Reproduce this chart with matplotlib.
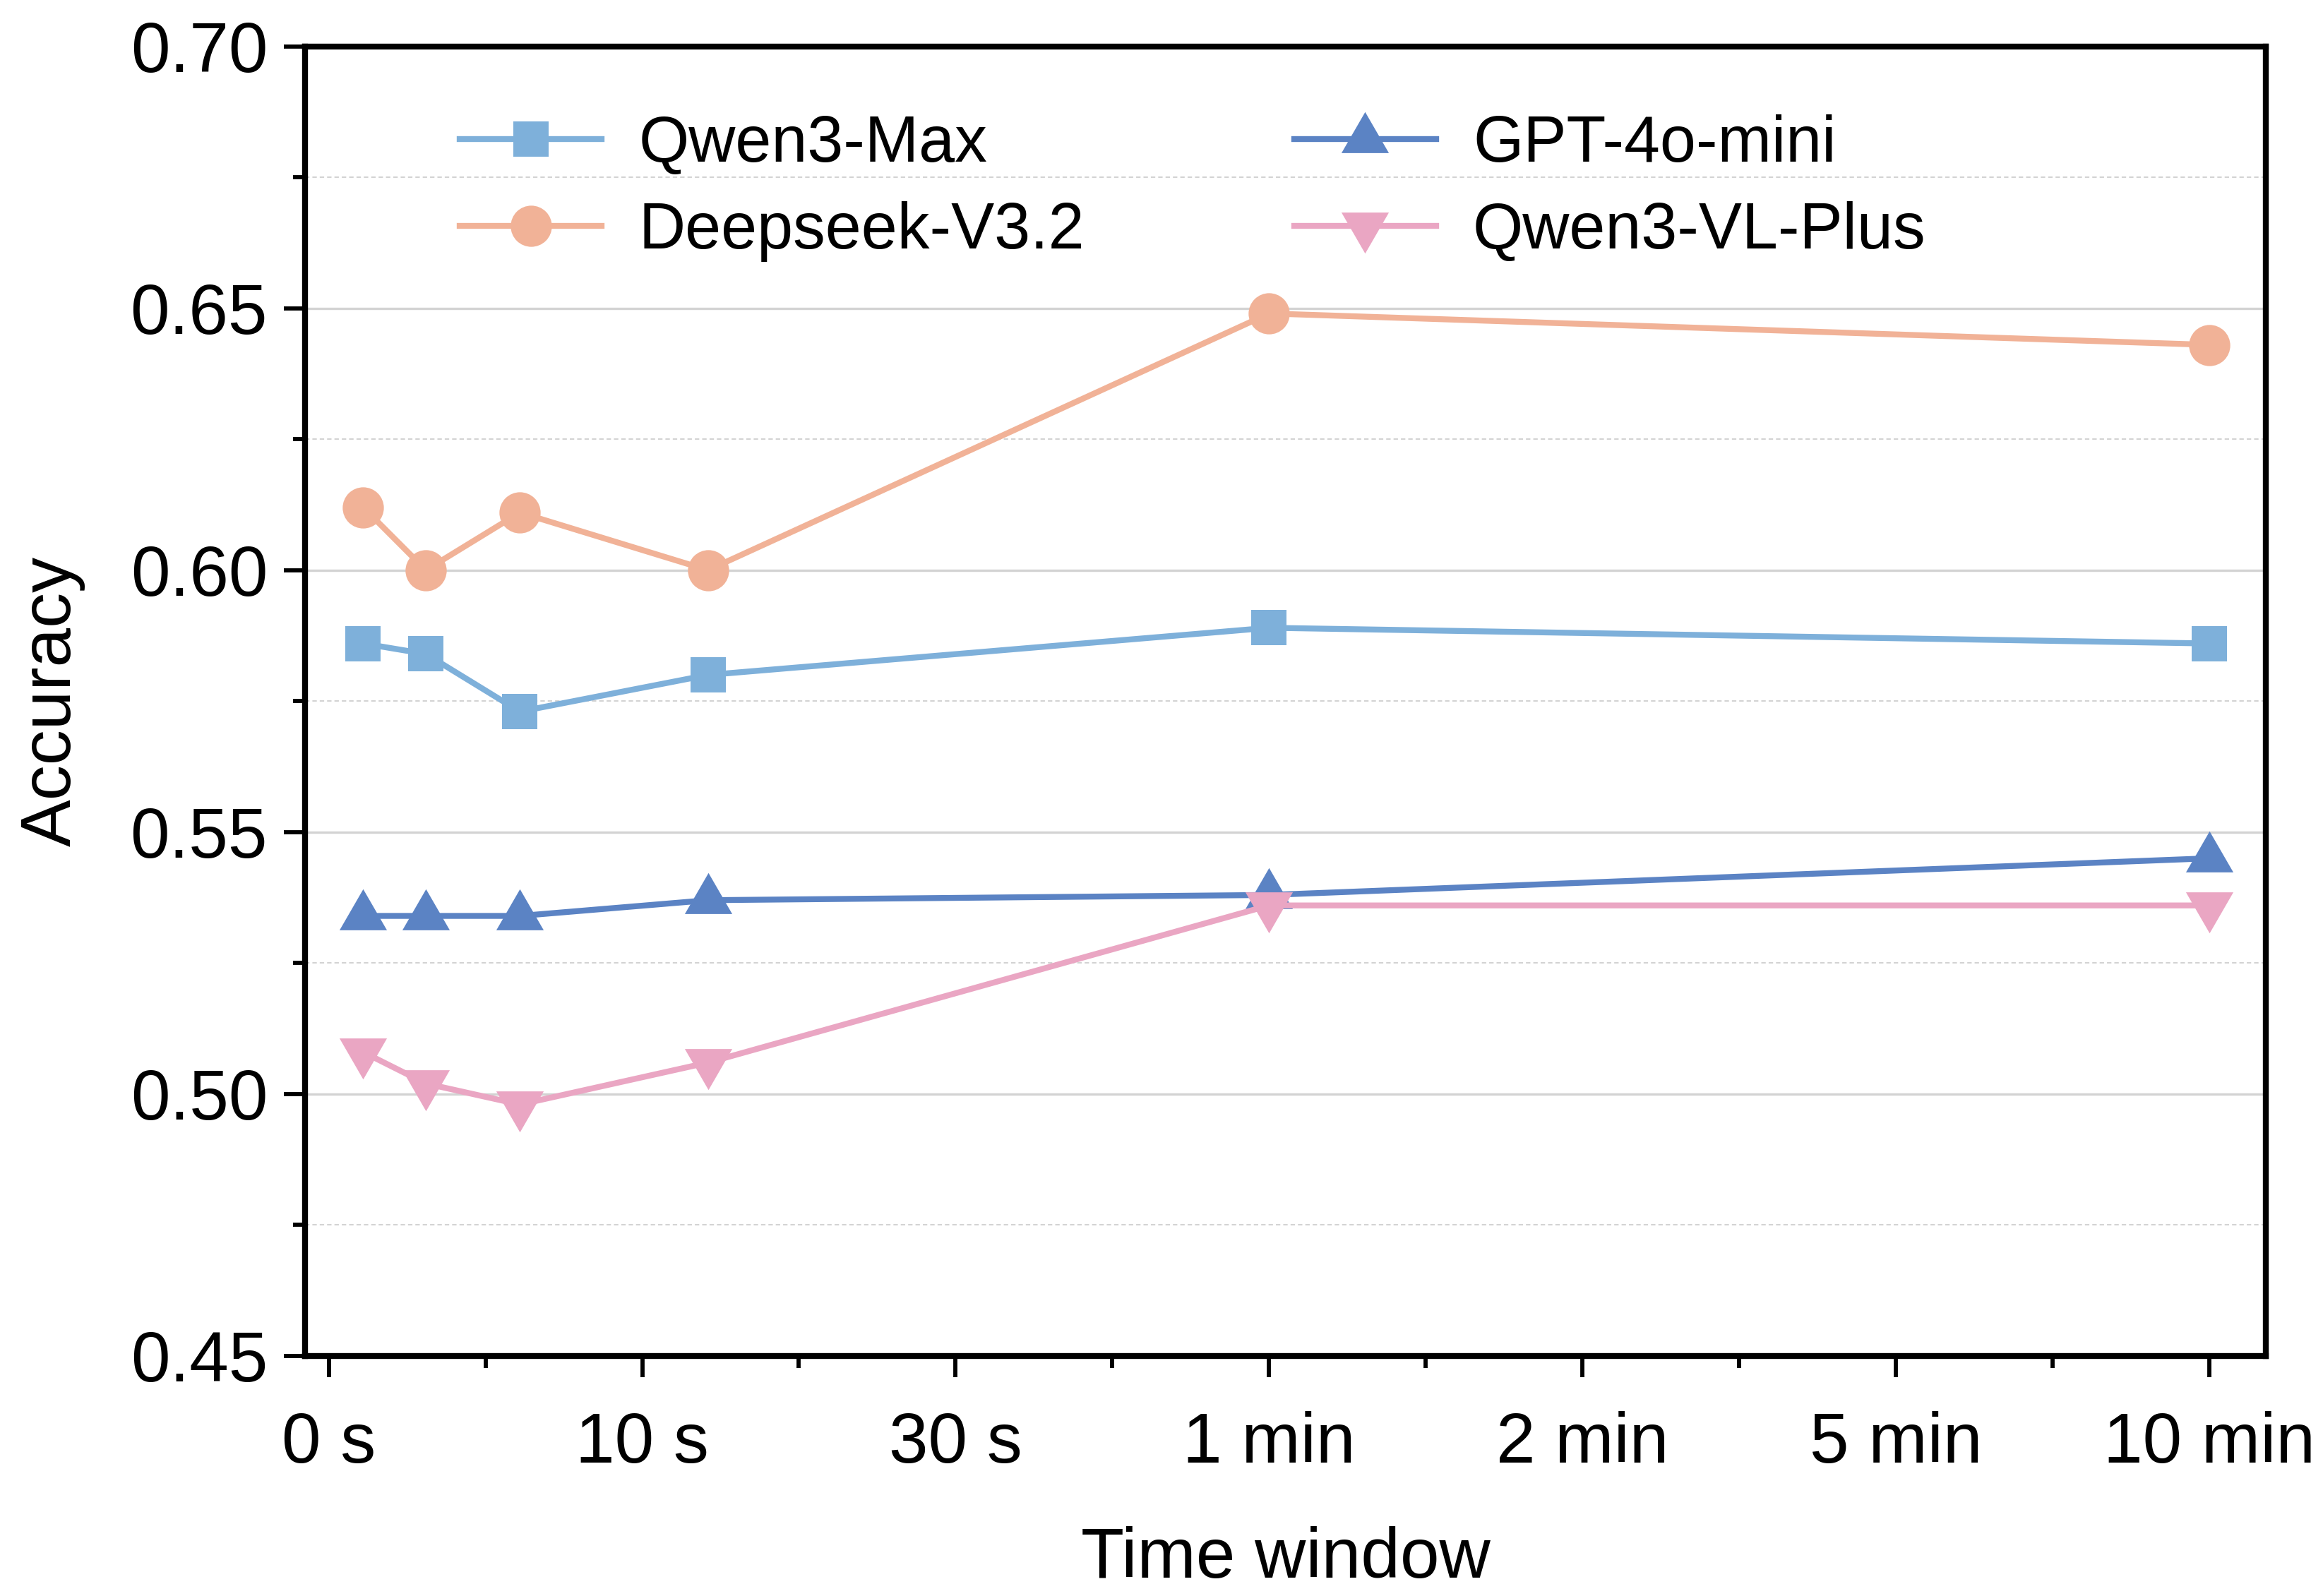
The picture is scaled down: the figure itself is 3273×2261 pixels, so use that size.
import matplotlib.pyplot as plt
from matplotlib.ticker import FixedLocator, MultipleLocator, FormatStrFormatter

plt.rcParams['font.family'] = ['Liberation Sans', 'DejaVu Sans']

# ---------- data ----------
tick_pos    = [0, 1, 2, 3, 4, 5, 6]
tick_labels = ["0 s", "10 s", "30 s", "1 min", "2 min", "5 min", "10 min"]
minor_pos   = [0.5, 1.5, 2.5, 3.5, 4.5, 5.5]

# where the measured windows sit on the time axis
x_pos = [0.11, 0.31, 0.61, 1.21, 3.0, 6.0]

qwen3_max     = [0.586, 0.584, 0.573, 0.580, 0.589, 0.586]
deepseek_v32  = [0.612, 0.600, 0.611, 0.600, 0.649, 0.643]
gpt_4o_mini   = [0.534, 0.534, 0.534, 0.537, 0.538, 0.545]
qwen3_vl_plus = [0.508, 0.502, 0.498, 0.506, 0.536, 0.536]

# equilateral triangles centred on their centroid (Origin style)
tri_up   = [(0, 2/3), (-0.5774, -1/3), (0.5774, -1/3), (0, 2/3)]
tri_down = [(0, -2/3), (-0.5774, 1/3), (0.5774, 1/3), (0, -2/3)]

series = [
    ("Qwen3-Max",     qwen3_max,     "#7EB0DA", "s",      12),
    ("Deepseek-V3.2", deepseek_v32,  "#F1B297", "o",      14),
    ("GPT-4o-mini",   gpt_4o_mini,   "#5B83C4", tri_up,   18.6),
    ("Qwen3-VL-Plus", qwen3_vl_plus, "#EAA6C3", tri_down, 18.6),
]

# ---------- figure ----------
fig = plt.figure(figsize=(3273 / 300, 2261 / 300), dpi=300)
ax = fig.add_axes([0.132, 0.1504, 0.8485, 0.8206])

for name, vals, color, marker, ms in series:
    ax.plot(x_pos, vals, color=color, lw=2.0, marker=marker, ms=ms,
            mec=color, mfc=color, mew=0, label=name, zorder=3)

ax.set_xlim(-0.0755, 6.18)
ax.set_ylim(0.45, 0.70)

ax.xaxis.set_major_locator(FixedLocator(tick_pos))
ax.xaxis.set_minor_locator(FixedLocator(minor_pos))
ax.set_xticklabels(tick_labels)
ax.yaxis.set_major_locator(MultipleLocator(0.05))
ax.yaxis.set_minor_locator(MultipleLocator(0.025))
ax.yaxis.set_major_formatter(FormatStrFormatter("%.2f"))

ax.tick_params(which="major", direction="out", length=7.2, width=1.4,
               labelsize=24, top=False, right=False)
ax.tick_params(which="minor", direction="out", length=4, width=1.4,
               top=False, right=False)
ax.tick_params(axis="x", which="major", pad=11.5)
ax.tick_params(axis="y", which="major", pad=5.5)

for sp in ax.spines.values():
    sp.set_linewidth(2.0)
    sp.set_color("black")

ax.set_axisbelow(True)
ax.yaxis.grid(True, which="major", color="#D3D3D3", lw=0.8)
ax.yaxis.grid(True, which="minor", color="#D3D3D3", lw=0.5, ls=(0, (3, 2)))

ax.set_xlabel("Time window", fontsize=24)
ax.set_ylabel("Accuracy", fontsize=24)
ax.xaxis.set_label_coords(0.5, -0.13)
ax.yaxis.set_label_coords(-0.112, 0.5)

ax.legend(ncol=2, loc="upper left", bbox_to_anchor=(0.079, 0.948),
          frameon=False, fontsize=22, handlelength=2.19, handletextpad=0.57,
          columnspacing=3.24, labelspacing=0.4, borderpad=0, borderaxespad=0,
          numpoints=1)

fig.savefig("out.png", dpi=300)
